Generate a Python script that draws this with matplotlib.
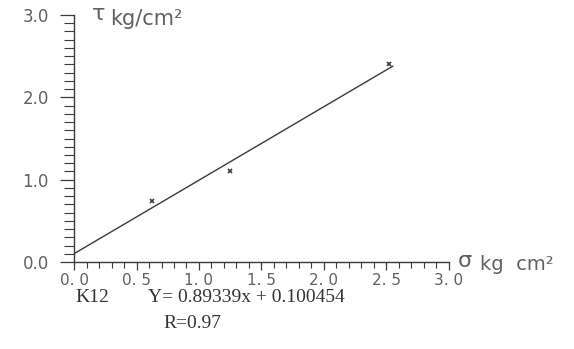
import matplotlib
matplotlib.use("Agg")
import matplotlib.pyplot as plt
from matplotlib.ticker import MultipleLocator, FixedLocator

# measured points (sigma, tau) in kg/cm2
sigma = [0.62, 1.25, 2.52]
tau = [0.74, 1.10, 2.41]

# regression line Y = a x + b
slope = 0.89339
intercept = 0.100454
line_x = [0.0, 2.55]

x_ticks = [0.0, 0.5, 1.0, 1.5, 2.0, 2.5, 3.0]
x_labels = ["0. 0", "0. 5", "1. 0", "1. 5", "2. 0", "2. 5", "3. 0"]
y_ticks = [0.0, 1.0, 2.0, 3.0]
y_labels = ["0.0", "1.0", "2.0", "3.0"]

ink = "#3a3a3a"
txt = "#606060"

fig = plt.figure(figsize=(5.74, 3.49), dpi=100)
ax = fig.add_axes([74 / 574, 1 - 262 / 349, 375 / 574, 247 / 349])

line_y = [slope * v + intercept for v in line_x]
ax.plot(line_x, line_y, color=ink, lw=1.0)
ax.plot(sigma, tau, linestyle="none", marker="x", ms=3.5, mew=1.2, color=ink)

ax.set_xlim(0, 3.0)
ax.set_ylim(0, 3.0)
for s in ["top", "right"]:
    ax.spines[s].set_visible(False)
for s in ["left", "bottom"]:
    ax.spines[s].set_color(ink)
    ax.spines[s].set_linewidth(1.0)

ax.xaxis.set_major_locator(FixedLocator(x_ticks))
ax.set_xticklabels(x_labels)
ax.xaxis.set_minor_locator(MultipleLocator(0.1))
ax.yaxis.set_major_locator(FixedLocator(y_ticks))
ax.set_yticklabels(y_labels)
ax.yaxis.set_minor_locator(MultipleLocator(0.1))

ax.tick_params(axis="x", which="major", direction="out", length=6, width=0.9,
               color=ink, labelcolor=txt, labelsize=11, pad=2)
ax.tick_params(axis="x", which="minor", direction="out", length=4, width=0.8, color=ink)
ax.tick_params(axis="y", which="major", direction="out", length=10, width=0.9,
               color=ink, labelcolor=txt, labelsize=12, pad=8)
ax.tick_params(axis="y", which="minor", direction="out", length=7, width=0.8, color=ink)

# axis names
fig.text(92 / 574, 1 - 14 / 349, "τ", fontsize=16, color=txt, va="center")
fig.text(110 / 574, 1 - 19 / 349, "kg/cm²", fontsize=15, color=txt, va="center")
fig.text(458 / 574, 1 - 261 / 349, "σ", fontsize=16, color=txt, va="center")
fig.text(480 / 574, 1 - 264 / 349, "kg  cm²", fontsize=14, color=txt, va="center")

# regression text
serif = ["Liberation Serif", "DejaVu Serif"]
fig.text(75 / 574, 1 - 298 / 349, "K12", family=serif, fontsize=14, color="#333333", va="center")
fig.text(148 / 574, 1 - 298 / 349, "Y= 0.89339x + 0.100454", family=serif, fontsize=14,
         color="#333333", va="center")
fig.text(163 / 574, 1 - 323 / 349, "R=0.97", family=serif, fontsize=14, color="#333333", va="center")

fig.savefig("out.png", dpi=100)
